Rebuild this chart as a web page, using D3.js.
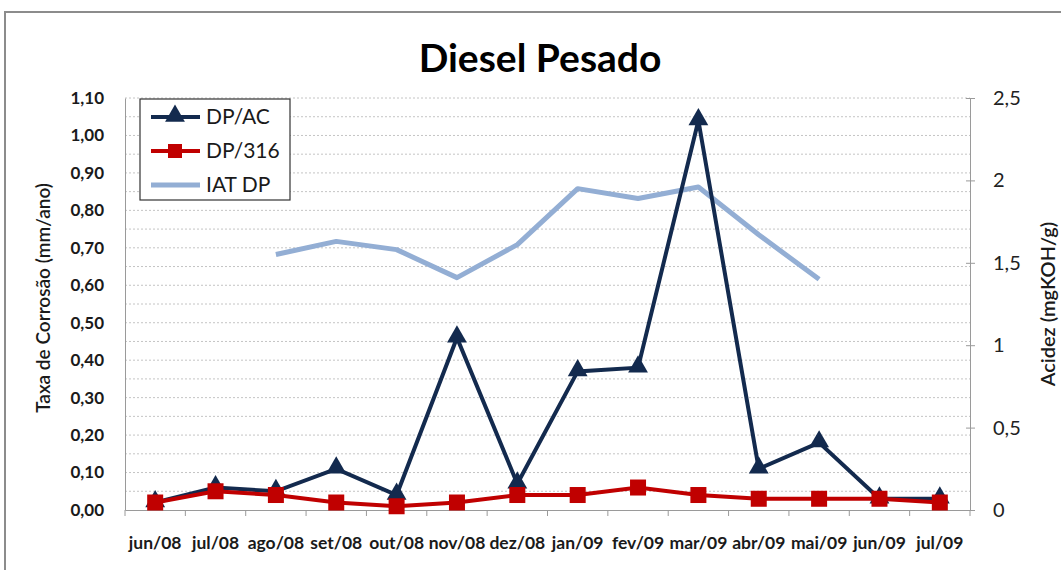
<!DOCTYPE html>
<html>
<head>
<meta charset="utf-8">
<script src="https://cdn.jsdelivr.net/npm/d3@7"></script>
<style>
  body { margin: 0; background: white; }
  svg { display: block; }
</style>
</head>
<body>
<div id="chart"></div>
<script>
//-- DATA --\\
var months = ["jun/08", "jul/08", "ago/08", "set/08", "out/08", "nov/08", "dez/08",
              "jan/09", "fev/09", "mar/09", "abr/09", "mai/09", "jun/09", "jul/09"];
var dpAC  = [0.02, 0.06, 0.05, 0.11, 0.04, 0.46, 0.07, 0.37, 0.38, 1.04, 0.11, 0.18, 0.03, 0.03];
var dp316 = [0.02, 0.05, 0.04, 0.02, 0.01, 0.02, 0.04, 0.04, 0.06, 0.04, 0.03, 0.03, 0.03, 0.02];
// acidity, right axis (null = no reading)
var iatDP = [null, null, 1.55, 1.63, 1.58, 1.41, 1.61, 1.95, 1.89, 1.96, 1.67, 1.40, null, null];
var leftTicks = [0, 0.1, 0.2, 0.3, 0.4, 0.5, 0.6, 0.7, 0.8, 0.9, 1.0, 1.1];
var rightTicks = [0, 0.5, 1, 1.5, 2, 2.5];

//-- CONSTANTS --\\
var width = 1061, height = 570;
var plotLeft = 125, plotRight = 970, plotTop = 98, plotBottom = 510;
var navy = "#132a4e";
var red = "#c00000";
var lightBlue = "#93aed4";
var font = "Lato, 'Open Sans', sans-serif";

var svg = d3.select("#chart").append("svg")
    .attr("width", width)
    .attr("height", height)
    .style("font-family", font);

// outer frame
svg.append("rect")
    .attr("x", 5).attr("y", 12)
    .attr("width", width + 10).attr("height", height)
    .attr("fill", "none")
    .attr("stroke", "#8c8c8c")
    .attr("stroke-width", 2);

var x = d3.scaleBand().domain(months).range([plotLeft, plotRight]).padding(0);
var yL = d3.scaleLinear().domain([0, 1.1]).range([plotBottom, plotTop]);
var yR = d3.scaleLinear().domain([0, 2.5]).range([plotBottom, plotTop]);
var cx = function (m) { return x(m) + x.bandwidth() / 2; };

// dashed gridlines every 0.05
var gridVals = d3.range(1, 23).map(function (i) { return i * 0.05; });
svg.append("g").selectAll("line")
    .data(gridVals)
    .join("line")
    .attr("x1", plotLeft).attr("x2", plotRight)
    .attr("y1", function (d) { return yL(d); })
    .attr("y2", function (d) { return yL(d); })
    .attr("stroke", "#c4c4c4")
    .attr("stroke-width", 1)
    .attr("stroke-dasharray", "2,2");

// left axis
var leftAxis = svg.append("g")
    .attr("transform", "translate(" + plotLeft + ",0)")
    .call(d3.axisLeft(yL).tickValues(leftTicks).tickSize(0).tickPadding(21)
        .tickFormat(function (d) { return d3.format(".2f")(d).replace(".", ","); }));
leftAxis.select(".domain").attr("stroke", "#9a9a9a");
leftAxis.selectAll("text")
    .style("font-size", "17px").style("font-weight", "bold")
    .attr("fill", "#1a1a1a").style("font-family", font);

// right axis
var rightAxis = svg.append("g")
    .attr("transform", "translate(" + plotRight + ",0)")
    .call(d3.axisRight(yR).tickValues(rightTicks).tickSize(5).tickPadding(18)
        .tickFormat(function (d) { return String(d).replace(".", ","); }));
rightAxis.select(".domain").attr("stroke", "#9a9a9a");
rightAxis.selectAll(".tick line").attr("stroke", "#9a9a9a").attr("x1", -4);
rightAxis.selectAll("text")
    .style("font-size", "20px")
    .attr("fill", "#222").style("font-family", font);

// x axis
var xAxis = svg.append("g")
    .attr("transform", "translate(0," + plotBottom + ")")
    .call(d3.axisBottom(x).tickSize(0).tickPadding(27));
xAxis.select(".domain").attr("stroke", "#9a9a9a");
xAxis.selectAll("text")
    .style("font-size", "17.5px").style("font-weight", "bold")
    .attr("fill", "#1a1a1a").style("font-family", font);
// tick marks at category boundaries
svg.append("g").selectAll("line")
    .data(d3.range(months.length + 1))
    .join("line")
    .attr("x1", function (i) { return plotLeft + i * x.bandwidth(); })
    .attr("x2", function (i) { return plotLeft + i * x.bandwidth(); })
    .attr("y1", plotBottom).attr("y2", plotBottom + 6)
    .attr("stroke", "#9a9a9a");

// IAT DP line (right axis)
var iatLine = d3.line()
    .defined(function (d) { return d != null; })
    .x(function (d, i) { return cx(months[i]); })
    .y(function (d) { return yR(d); });
svg.append("path")
    .datum(iatDP)
    .attr("d", iatLine)
    .attr("fill", "none")
    .attr("stroke", lightBlue)
    .attr("stroke-width", 5)
    .attr("stroke-linejoin", "round");

// DP/AC line + triangles
var leftLine = d3.line()
    .x(function (d, i) { return cx(months[i]); })
    .y(function (d) { return yL(d); });
svg.append("path")
    .datum(dpAC)
    .attr("d", leftLine)
    .attr("fill", "none")
    .attr("stroke", navy)
    .attr("stroke-width", 4)
    .attr("stroke-linejoin", "miter");
var tri = d3.symbol().type(d3.symbolTriangle).size(170);
svg.append("g").selectAll("path")
    .data(dpAC)
    .join("path")
    .attr("d", tri)
    .attr("transform", function (d, i) { return "translate(" + cx(months[i]) + "," + (yL(d) - 1) + ")"; })
    .attr("fill", navy);

// DP/316 line + squares
svg.append("path")
    .datum(dp316)
    .attr("d", leftLine)
    .attr("fill", "none")
    .attr("stroke", red)
    .attr("stroke-width", 4);
svg.append("g").selectAll("rect")
    .data(dp316)
    .join("rect")
    .attr("x", function (d, i) { return cx(months[i]) - 8; })
    .attr("y", function (d) { return yL(d) - 8; })
    .attr("width", 16).attr("height", 16)
    .attr("fill", red);

// title
svg.append("text")
    .attr("x", 540).attr("y", 72)
    .attr("text-anchor", "middle")
    .style("font-size", "39px").style("font-weight", "bold")
    .attr("fill", "#000")
    .text("Diesel Pesado");

// axis titles
svg.append("text")
    .attr("transform", "translate(50,298) rotate(-90)")
    .attr("text-anchor", "middle")
    .style("font-size", "19px").style("font-weight", "600")
    .attr("fill", "#1a1a1a")
    .text("Taxa de Corrosão (mm/ano)");
svg.append("text")
    .attr("transform", "translate(1055,304) rotate(-90)")
    .attr("text-anchor", "middle")
    .style("font-size", "20px").style("font-weight", "600")
    .attr("fill", "#1a1a1a")
    .text("Acidez (mgKOH/g)");

// legend
var legend = svg.append("g");
legend.append("rect")
    .attr("x", 140).attr("y", 99)
    .attr("width", 150).attr("height", 101)
    .attr("fill", "white")
    .attr("stroke", "#333")
    .attr("stroke-width", 1.2);
var legItems = [
    {name: "DP/AC", color: navy, mark: "tri", w: 4},
    {name: "DP/316", color: red, mark: "sq", w: 4},
    {name: "IAT DP", color: lightBlue, mark: null, w: 5}
];
legItems.forEach(function (d, i) {
    var ly = 117 + i * 34;
    legend.append("line")
        .attr("x1", 151).attr("x2", 200)
        .attr("y1", ly).attr("y2", ly)
        .attr("stroke", d.color).attr("stroke-width", d.w);
    if (d.mark === "tri") {
        legend.append("path").attr("d", tri)
            .attr("transform", "translate(175," + (ly - 1) + ")")
            .attr("fill", d.color);
    } else if (d.mark === "sq") {
        legend.append("rect").attr("x", 168).attr("y", ly - 7)
            .attr("width", 14).attr("height", 14).attr("fill", d.color);
    }
    legend.append("text")
        .attr("x", 206).attr("y", ly + 7)
        .style("font-size", "21px")
        .attr("fill", "#1a1a1a")
        .text(d.name);
});
</script>
</body>
</html>
